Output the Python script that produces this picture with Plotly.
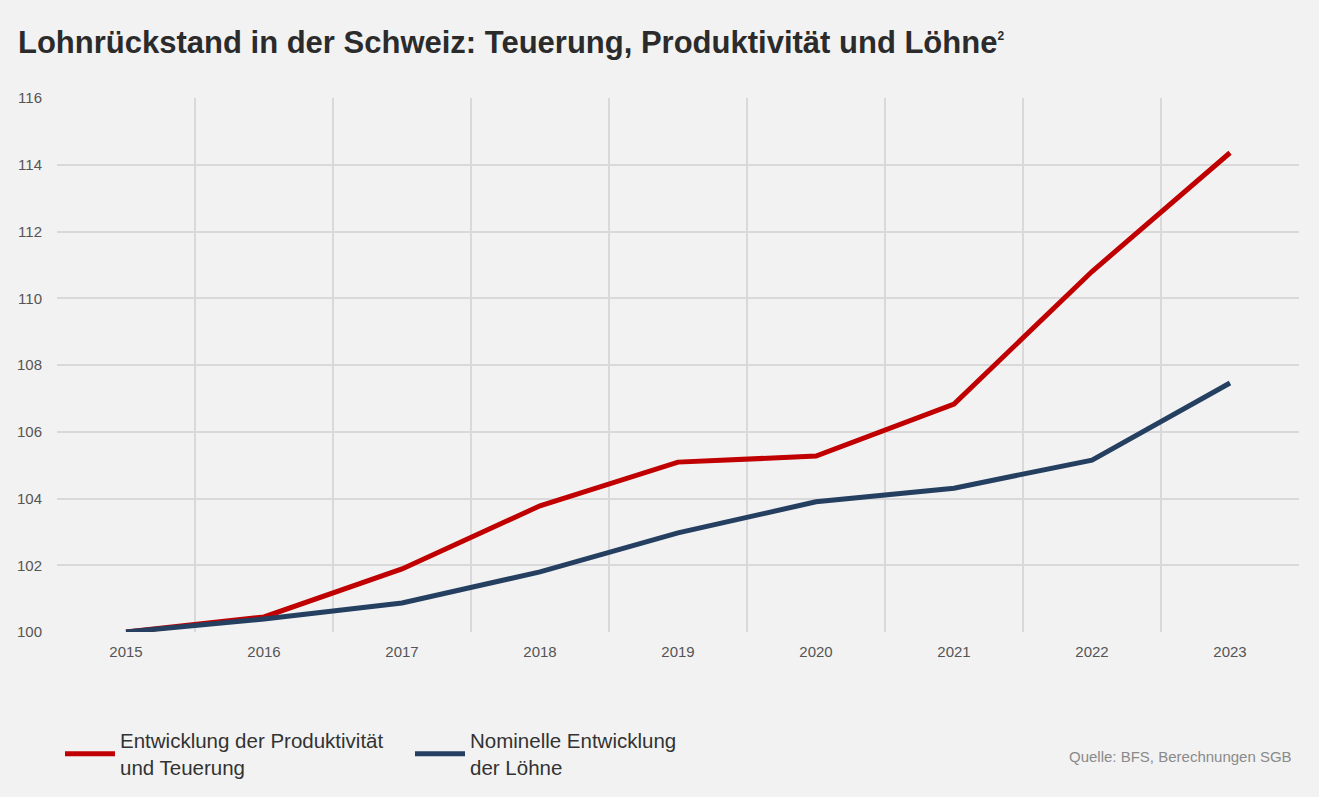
import plotly.graph_objects as go

years = [2015, 2016, 2017, 2018, 2019, 2020, 2021, 2022, 2023]
produktivitaet_teuerung = [100.0, 100.45, 101.89, 103.78, 105.09, 105.27, 106.83, 110.80, 114.36]
nominallohn = [100.0, 100.39, 100.87, 101.80, 102.97, 103.90, 104.31, 105.15, 107.46]

series_names = ["Entwicklung der Produktivität<br>und Teuerung", "Nominelle Entwicklung<br>der Löhne"]
series_colors = ["#c00000", "#243f60"]
y_ticks = [100, 102, 104, 106, 108, 110, 112, 114, 116]

title_text = "Lohnrückstand in der Schweiz: Teuerung, Produktivität und Löhne<sup><span style='font-size:12px'>2</span></sup>"
source_text = "Quelle: BFS, Berechnungen SGB"

fig = go.Figure()
for name, vals, col in zip(series_names, [produktivitaet_teuerung, nominallohn], series_colors):
    fig.add_trace(go.Scatter(
        x=years, y=vals, name=name, mode="lines",
        line=dict(color=col, width=5),
        cliponaxis=False,
    ))

fig.update_layout(
    width=1319, height=797,
    paper_bgcolor="#f2f2f2", plot_bgcolor="#f2f2f2",
    margin=dict(l=57, r=20, t=98, b=165),
    font=dict(family="Liberation Sans, Arial, sans-serif", color="#555555"),
    title=dict(
        text=title_text, x=18 / 1319, xanchor="left", xref="container",
        y=1 - 42 / 797, yanchor="middle", yref="container",
        font=dict(size=31, color="#2b2b2b", family="Liberation Sans, Arial, sans-serif", weight="bold"),
    ),
    showlegend=True,
    legend=dict(
        orientation="h", xref="container", yref="container",
        x=60 / 1319, xanchor="left", y=1 - 754 / 797, yanchor="middle",
        font=dict(size=20.5, color="#333333",
                  family="Liberation Sans, Arial, sans-serif"),
        bgcolor="rgba(0,0,0,0)", itemwidth=50, tracegroupgap=0,
        entrywidth=285,
    ),
    xaxis=dict(
        range=[2014.5, 2023.5], tickmode="array", tickvals=years,
        ticktext=[str(y) for y in years], showgrid=False, zeroline=False,
        tickfont=dict(size=15, color="#555555"),
        ticks="outside", ticklen=6, tickcolor="rgba(0,0,0,0)",
        minor=dict(tick0=2014.5, dtick=1, showgrid=True, gridcolor="#d9d9d9", gridwidth=2),
        showline=False, fixedrange=True,
    ),
    yaxis=dict(
        range=[100, 116], tickmode="array", tickvals=y_ticks,
        showgrid=True, gridcolor="#d9d9d9", gridwidth=2, zeroline=False,
        tickfont=dict(size=15, color="#555555"),
        ticks="outside", ticklen=11, tickcolor="rgba(0,0,0,0)",
        showline=False, fixedrange=True,
    ),
    annotations=[dict(
        text=source_text, xref="paper", yref="paper",
        x=(1294 - 57) / 1242, xanchor="right", y=(632 - 756) / 534, yanchor="middle",
        showarrow=False, font=dict(size=15, color="#8a8a8a"),
    )],
)

fig.write_html(
    "out.html",
    config={"displayModeBar": False},
    post_script="document.body.style.margin='0';document.body.style.background='#f2f2f2';",
)
